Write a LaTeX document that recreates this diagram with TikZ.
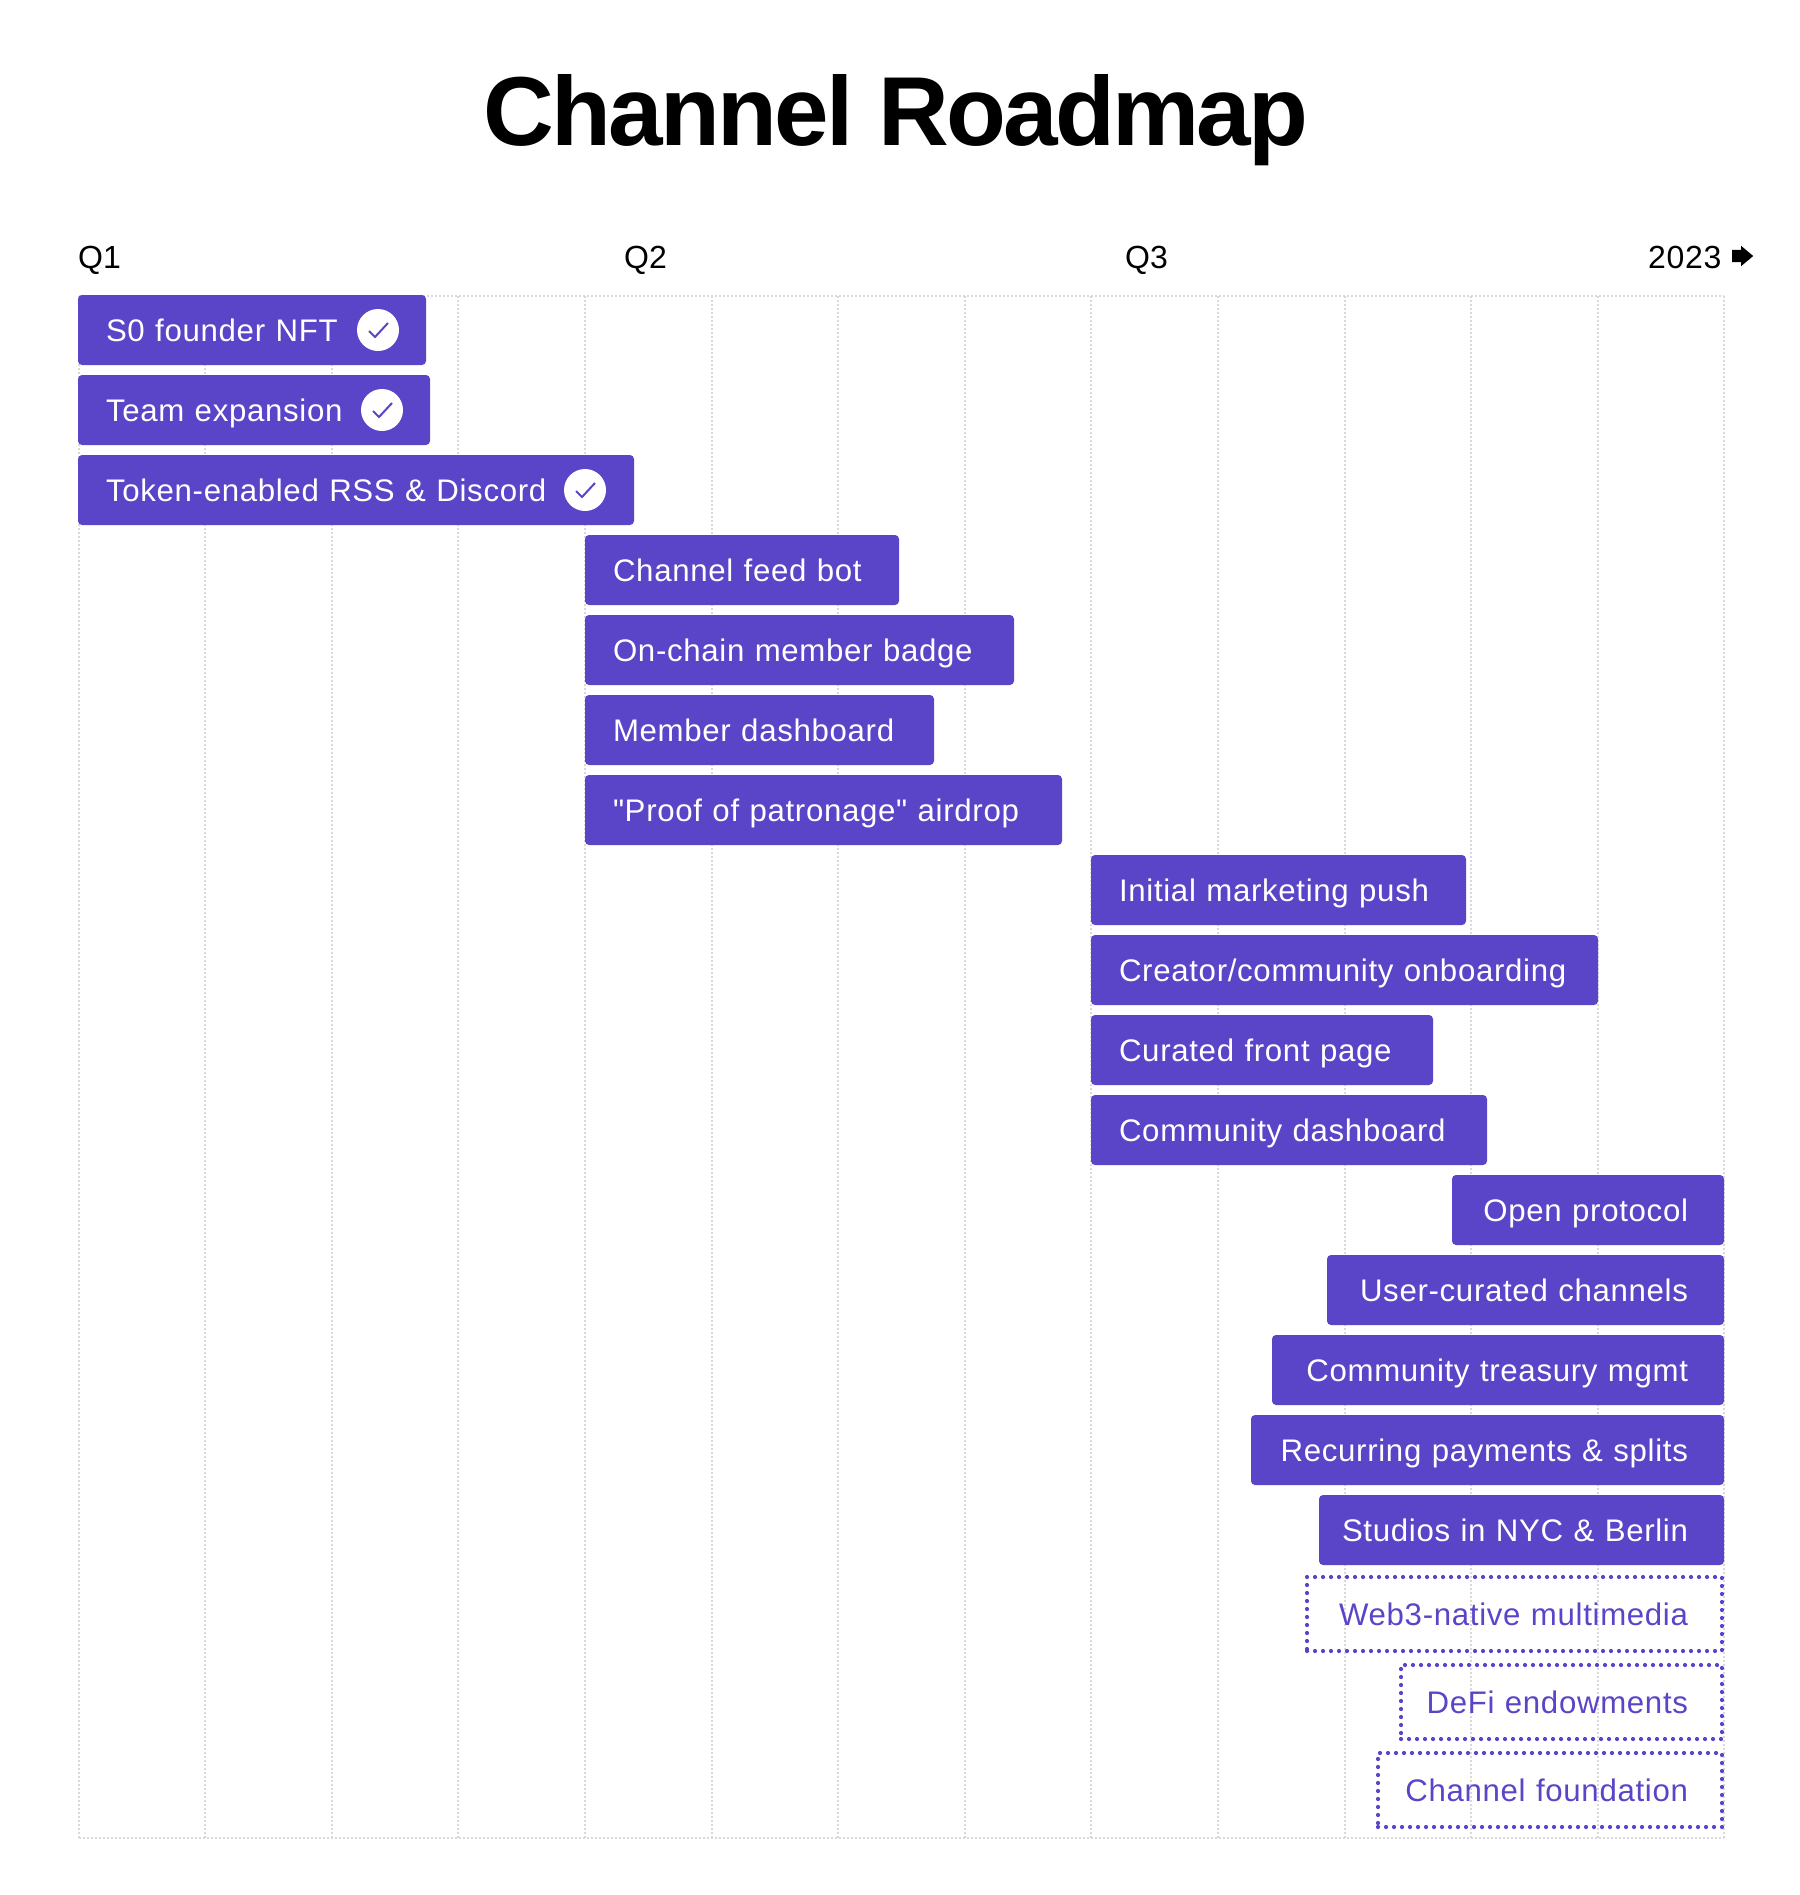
\documentclass[tikz,border=0pt]{standalone}
\usepackage{fontspec}
\usetikzlibrary{shapes.arrows}
\setmainfont{Liberation Sans}
\newfontfamily\barfont[LetterSpace=2.2]{Liberation Sans}
\newfontfamily\titlefont[LetterSpace=-2.8]{Liberation Sans}
\definecolor{barblue}{HTML}{5A44C8}
\definecolor{gridgray}{HTML}{D9D9D9}
\tikzset{
	gridline/.style={gridgray, line width=2bp, dash pattern=on 2bp off 2bp},
	quarter/.style={anchor=base west, inner sep=0pt, font=\fontsize{32bp}{38bp}\selectfont},
	barbase/.style={anchor=north west, outer sep=0pt, inner ysep=0pt, text height=26bp, text depth=4bp,
		font=\barfont\fontsize{31.2bp}{36bp}\selectfont},
	leftbar/.style={barbase, fill=barblue, text=white, rounded corners=4bp, minimum height=70bp,
		inner xsep=28bp, align=left},
	rightbar/.style={barbase, fill=barblue, text=white, rounded corners=4bp, minimum height=70bp,
		inner xsep=36bp, align=right},
	plannedbar/.style={barbase, draw=barblue, text=barblue, line width=4.2bp, line cap=round,
		dash pattern=on 0pt off 8bp, minimum height=74bp, inner xsep=34bp, align=right},
	donedot/.style={circle, fill=white, inner sep=0pt, minimum size=42bp},
	donetick/.style={barblue, line width=2bp},
}
\begin{document}
\begin{tikzpicture}[x=1bp,y=-1bp]
	\useasboundingbox (0,0) rectangle (1800,1895);
	\node[inner sep=0pt, anchor=base, font=\titlefont\fontsize{98bp}{118bp}\selectfont\bfseries] (title) at (896,145) {Channel Roadmap};
	% quarters
	\node[quarter] (q1) at (78,268) {Q1};
	\node[quarter] (q2) at (624,268) {Q2};
	\node[quarter] (q3) at (1125,268) {Q3};
	\node[quarter, font=\barfont\fontsize{32bp}{38bp}\selectfont] (year) at (1648,268) {2023};
	\node[single arrow, fill=black, inner xsep=0pt, inner ysep=6bp, outer sep=0pt, minimum height=21bp,
		single arrow head extend=4bp, single arrow tip angle=80] (yeararrow) at (1739,256) {};
	% grid
	\foreach \i in {0,1,...,13}
		{
			\draw[gridline] ({78.5+\i*126.6},296) -- ({78.5+\i*126.6},1838);
		}
	\draw[gridline] (78.5,296) -- (1724,296);
	\draw[gridline] (78.5,1838) -- (1724,1838);
	% bars from the left
	\foreach \n/\l/\r/\t/\s in {
			founder/78/426/295/{S0 founder NFT},
			team/78/430/375/{Team expansion},
			token/78/634/455/{Token-enabled RSS \& Discord},
			feed/585/899/535/{Channel feed bot},
			badge/585/1014/615/{On-chain member badge},
			member/585/934/695/{Member dashboard},
			airdrop/585/1062/775/{"Proof of patronage" airdrop},
			push/1091/1466/855/{Initial marketing push},
			creator/1091/1598/935/{Creator/community onboarding},
			front/1091/1433/1015/{Curated front page},
			community/1091/1487/1095/{Community dashboard}}
		{
			\node[leftbar, minimum width={(\r-\l)*1bp}, text width={(\r-\l-56)*1bp}] (\n) at (\l,\t) {\s};
		}
	% bars from the right
	\foreach \n/\l/\t/\s in {
			protocol/1452/1175/{Open protocol},
			curated/1327/1255/{User-curated channels},
			treasury/1272/1335/{Community treasury mgmt},
			payments/1251/1415/{Recurring payments \& splits},
			studios/1319/1495/{Studios in NYC \& Berlin}}
		{
			\node[rightbar, minimum width={(1724-\l)*1bp}, text width={(1724-\l-72)*1bp}] (\n) at (\l,\t) {\llap{\s}};
		}
	% not yet planned
	\foreach \n/\l/\t/\s in {
			web3/1307/1577/{Web3-native multimedia},
			defi/1401/1665/{DeFi endowments},
			foundation/1378/1753/{Channel foundation}}
		{
			\node[plannedbar, minimum width={(1722-\l)*1bp}, text width={(1722-\l-68)*1bp}] (\n) at (\l,\t) {\llap{\s}};
		}
	% finished items
	\foreach \n/\x/\y in {founder/378/330,team/382/410,token/585/490}
		{
			\node[donedot] (\n dot) at (\x,\y) {};
			\draw[donetick] (\x-9,\y+1) -- (\x-3,\y+7) -- (\x+10,\y-7);
		}
\end{tikzpicture}
\end{document}
